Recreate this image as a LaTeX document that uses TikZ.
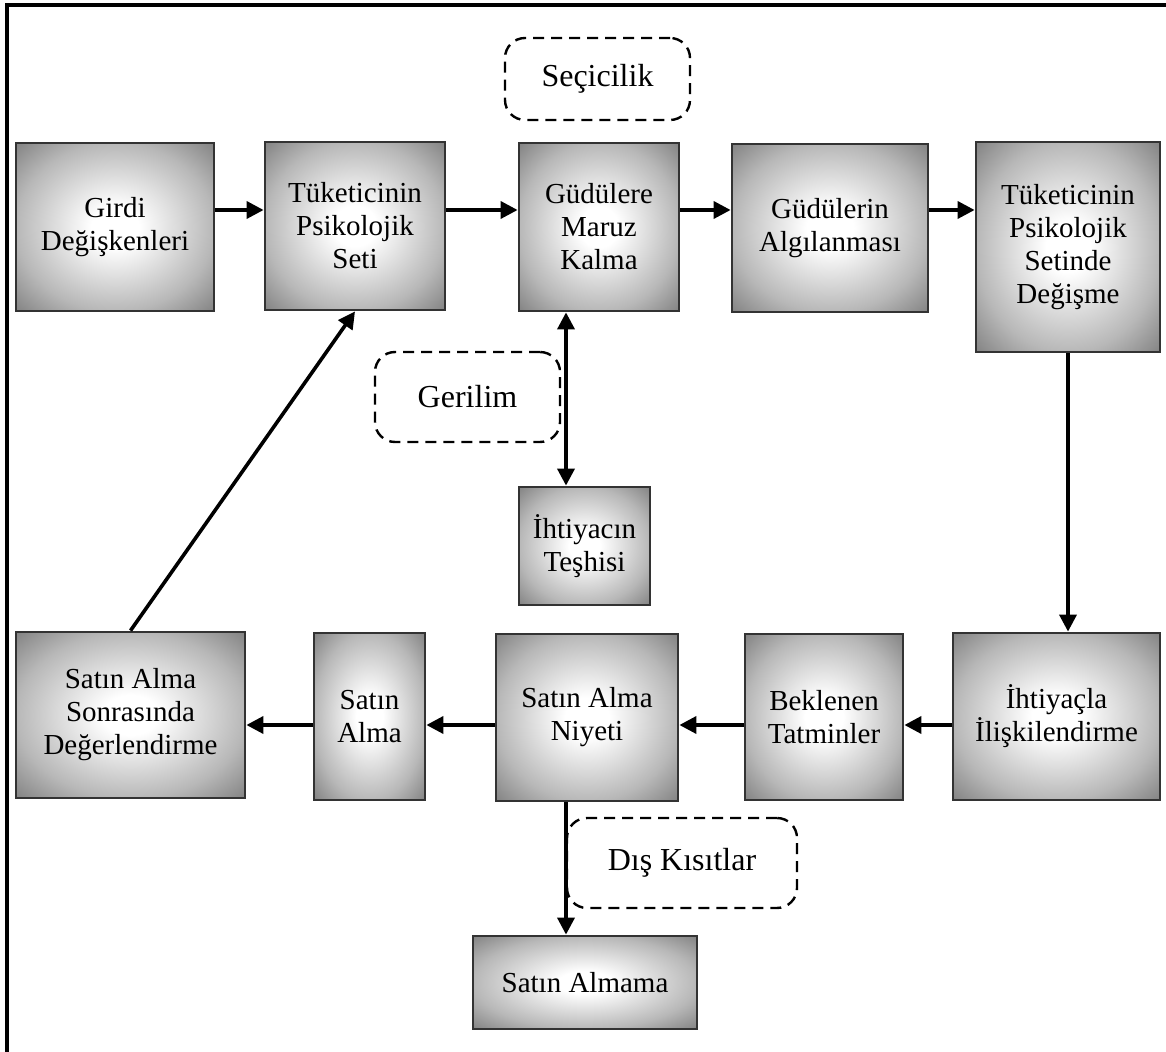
\documentclass[tikz,border=0pt]{standalone}
\usepackage{fontspec}
\setmainfont{Liberation Serif}
\usetikzlibrary{arrows.meta,calc}

% soft white-centred glow used inside every process box
\pgfdeclareradialshading{boxglow}{\pgfpoint{0bp}{0bp}}{%
  color(0bp)=(white); color(6bp)=(white); color(25bp)=(black!28);
  color(35bp)=(black!48); color(50bp)=(black!48)}

\tikzset{
  box/.style 2 args={draw=black!80, line width=1.4pt, shading=boxglow,
    minimum width=#1*0.5pt, minimum height=#2*0.5pt, inner sep=0pt,
    align=center, font=\fontsize{14.5}{16.5}\selectfont},
  note/.style 2 args={draw=black, dash pattern=on 5.5pt off 3.5pt, line width=1.2pt,
    rounded corners=10pt, minimum width=#1*0.5pt, minimum height=#2*0.5pt,
    inner sep=0pt, align=center, font=\fontsize{16}{19}\selectfont},
  tip/.tip={Triangle[length=8.5pt,width=8.5pt]},
  arr/.style={line width=1.8pt, -tip},
  dbl/.style={line width=1.8pt, tip-tip},
  frame/.style={line width=2pt},
}

\begin{document}
\begin{tikzpicture}[x=0.5pt, y=-0.5pt]
\useasboundingbox (0,0) rectangle (1166,1052);

% partial page frame
\draw[frame] (7,1052) -- (7,5) -- (1166,5);

% process boxes
\node[box={198}{168}] (girdi)   at (115,227)    {Girdi\\Değişkenleri};
\node[box={180}{168}] (tset)    at (355,226)    {Tüketicinin\\Psikolojik\\Seti};
\node[box={160}{168}] (maruz)   at (599,227)    {Güdülere\\Maruz\\Kalma};
\node[box={196}{168}] (algi)    at (830,228)    {Güdülerin\\Algılanması};
\node[box={184}{210}] (degisme) at (1068,247)   {Tüketicinin\\Psikolojik\\Setinde\\Değişme};
\node[box={207}{167}] (iliski)  at (1056.5,716.5) {İhtiyaçla\\İlişkilendirme};
\node[box={158}{166}] (tatmin)  at (824,717)    {Beklenen\\Tatminler};
\node[box={182}{167}] (niyet)   at (587,717.5)  {Satın Alma\\Niyeti};
\node[box={111}{167}] (satin)   at (369.5,716.5) {Satın\\Alma};
\node[box={229}{166}] (sonra)   at (130.5,715)  {Satın Alma\\Sonrasında\\Değerlendirme};
\node[box={131}{118}] (teshis)  at (584.5,546)  {İhtiyacın\\Teşhisi};
\node[box={224}{93}]  (almama)  at (585,982.5)  {Satın Almama};

% dashed influence labels
\node[note={185}{82}] (secici)  at (597.5,79)   {Seçicilik};
\node[note={185}{90}] (gerilim) at (467.5,397)  {Gerilim};
\node[note={230}{90}] (kisit)   at (682,863)    {Dış Kısıtlar};

% connector rows and columns
\coordinate (row1) at (0,210);
\coordinate (row2) at (0,725);
\coordinate (col1) at (566,0);

% top row, left to right
\draw[arr] (girdi.east |- row1) -- (tset.west |- row1);
\draw[arr] (tset.east |- row1)  -- (maruz.west |- row1);
\draw[arr] (maruz.east |- row1) -- (algi.west |- row1);
\draw[arr] (algi.east |- row1)  -- (degisme.west |- row1);

% down the right side
\draw[arr] (degisme.south) -- (iliski.north -| degisme.south);

% bottom row, right to left
\draw[arr] (iliski.west |- row2) -- (tatmin.east |- row2);
\draw[arr] (tatmin.west |- row2) -- (niyet.east |- row2);
\draw[arr] (niyet.west |- row2)  -- (satin.east |- row2);
\draw[arr] (satin.west |- row2)  -- (sonra.east |- row2);

% feedback and branches
\draw[arr] (sonra.north) -- (tset.south);
\draw[dbl] (maruz.south -| col1) -- (teshis.north -| col1);
\draw[arr] (niyet.south -| col1) -- (almama.north -| col1);
\end{tikzpicture}
\end{document}
